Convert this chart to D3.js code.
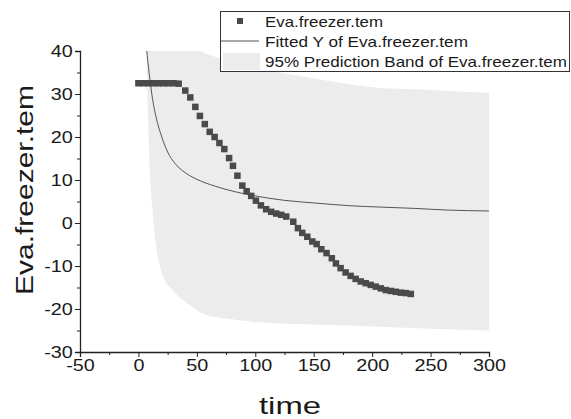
<!DOCTYPE html>
<html>
<head>
<meta charset="utf-8">
<script src="https://cdn.jsdelivr.net/npm/d3@7"></script>
<style>
  html, body { margin: 0; padding: 0; background: #fff; }
  text { font-family: "Liberation Sans", Arial, sans-serif; fill: #1a1a1a; }
</style>
</head>
<body>
<svg id="chart" width="571" height="419"></svg>
<script>
// ---- data ----
const timeValues = [0, 4.3, 8.6, 12.9, 17.2, 21.5, 25.8, 30.1, 34.4, 40.1, 44.4, 48.7, 52.6, 56.8, 61.0, 65.2, 69.3, 73.5, 77.6, 80.9, 84.7, 88.9, 92.6, 96.5, 100.5, 104.8, 109.3, 113.6, 117.9, 122.2, 126.5, 132.5, 136.5, 140.2, 144.5, 148.8, 152.5, 156.5, 161.0, 165.5, 169.0, 173.0, 177.3, 181.6, 185.9, 190.2, 194.5, 198.8, 203.1, 207.4, 211.7, 216.0, 220.2, 224.5, 228.8, 233.1];
const tempValues = [32.5, 32.5, 32.5, 32.5, 32.5, 32.5, 32.5, 32.5, 32.4, 30.8, 29.2, 27.0, 24.9, 23.0, 21.2, 20.0, 18.6, 17.2, 15.1, 13.3, 11.0, 8.7, 7.4, 6.3, 5.2, 4.1, 3.2, 2.6, 2.2, 1.9, 1.5, 0.3, -1.2, -2.3, -3.2, -4.3, -4.9, -6.1, -7.0, -8.2, -9.4, -10.5, -11.5, -12.3, -13.0, -13.6, -14.0, -14.4, -14.8, -15.2, -15.6, -15.8, -16.0, -16.2, -16.3, -16.5];

const fitX = [6.5, 7.2, 8.5, 10, 12, 14, 17, 20, 25, 31.5, 38, 44, 53, 70, 96, 124, 153, 182, 207, 236, 265, 300];
const fitY = [43, 40, 36.5, 33, 29, 26, 22.6, 20.0, 16.5, 13.8, 12.1, 11.0, 9.8, 8.2, 6.5, 5.3, 4.6, 4.0, 3.7, 3.4, 3.0, 2.8];

const bandX     = [6.8, 8, 10, 12, 14.5, 20, 31.5, 46, 57, 80, 100, 150, 207, 236, 265, 300];
const bandUpper = [75, 70, 63, 58, 54, 49, 44.5, 41, 39.5, 37.7, 36.2, 33.6, 31.4, 31.1, 30.7, 30.3];
const bandLower = [42, 27, 11, 3, -4, -11.5, -16.3, -19.5, -21.3, -22.4, -23.0, -23.6, -24.1, -24.4, -24.7, -25.0];

const xTicks = [-50, 0, 50, 100, 150, 200, 250, 300];
const yTicks = [-30, -20, -10, 0, 10, 20, 30, 40];
const legendLabels = ["Eva.freezer.tem", "Fitted Y of Eva.freezer.tem", "95% Prediction Band of Eva.freezer.tem"];

// ---- drawing ----
const svg = d3.select("#chart");
const x = d3.scaleLinear().domain([-50, 300]).range([80, 489]);
const y = d3.scaleLinear().domain([-30, 40]).range([352, 51]);
const fmt = d => String(d); // plain hyphen-minus as in the reference

svg.append("defs").append("clipPath").attr("id", "plotclip")
  .append("rect").attr("x", 80).attr("y", 51).attr("width", 409).attr("height", 301);

const plot = svg.append("g").attr("clip-path", "url(#plotclip)");

const bandData = bandX.map((d, i) => ({x: d, hi: bandUpper[i], lo: bandLower[i]}));
plot.append("path")
  .datum(bandData)
  .attr("fill", "#ececec")
  .attr("d", d3.area().curve(d3.curveMonotoneX)
    .x(d => x(d.x)).y0(d => y(d.lo)).y1(d => y(d.hi)));

const fitData = fitX.map((d, i) => ({x: d, y: fitY[i]}));
plot.append("path")
  .datum(fitData)
  .attr("fill", "none")
  .attr("stroke", "#555")
  .attr("stroke-width", 1)
  .attr("d", d3.line().curve(d3.curveMonotoneX).x(d => x(d.x)).y(d => y(d.y)));

const pts = timeValues.map((d, i) => ({x: d, y: tempValues[i]}));
const sq = 6.5;
plot.selectAll("rect.pt").data(pts).enter().append("rect")
  .attr("class", "pt")
  .attr("x", d => x(d.x) - sq / 2)
  .attr("y", d => y(d.y) - sq / 2)
  .attr("width", sq).attr("height", sq)
  .attr("fill", "#4a4a4a");

// axes
const xAxis = svg.append("g").attr("transform", "translate(0,352)")
  .call(d3.axisBottom(x).tickValues(xTicks).tickSize(5).tickPadding(2).tickFormat(fmt));
const xMinor = svg.append("g").attr("transform", "translate(0,352)")
  .call(d3.axisBottom(x).tickValues(d3.range(-25, 300, 50)).tickSize(3).tickFormat(""));
const yAxis = svg.append("g").attr("transform", "translate(80,0)")
  .call(d3.axisLeft(y).tickValues(yTicks).tickSize(5).tickPadding(1).tickFormat(fmt));
const yMinor = svg.append("g").attr("transform", "translate(80,0)")
  .call(d3.axisLeft(y).tickValues(d3.range(-25, 40, 10)).tickSize(3).tickFormat(""));

[xAxis, xMinor, yAxis, yMinor].forEach(g => {
  g.selectAll("path.domain").attr("stroke", "#222").attr("stroke-width", 1.3);
  g.selectAll(".tick line").attr("stroke", "#222").attr("stroke-width", 1);
});
xMinor.select("path.domain").remove();
yMinor.select("path.domain").remove();
[xAxis, yAxis].forEach(g => {
  g.selectAll("text").attr("font-size", 16.5).attr("fill", "#1a1a1a")
    .attr("font-family", "Liberation Sans, Arial, sans-serif")
    .attr("transform", "scale(1.2,1)");
});

// axis titles
svg.append("text").attr("x", 290).attr("y", 414).attr("text-anchor", "middle")
  .attr("font-size", 24).attr("textLength", 62).attr("lengthAdjust", "spacingAndGlyphs")
  .text("time");
svg.append("text")
  .attr("transform", "translate(33,190) rotate(-90)")
  .attr("text-anchor", "middle").attr("font-size", 23)
  .attr("textLength", 210).attr("lengthAdjust", "spacingAndGlyphs")
  .text("Eva.freezer.tem");

// legend
const lg = svg.append("g");
lg.append("rect").attr("x", 220.5).attr("y", 11.5).attr("width", 349).attr("height", 60)
  .attr("fill", "#fff").attr("stroke", "#333").attr("stroke-width", 1);
const rowY = [21, 41, 61];
const legendLen = [118, 203, 302];
lg.append("rect").attr("x", 237).attr("y", rowY[0] - 3).attr("width", 6).attr("height", 6).attr("fill", "#4a4a4a");
lg.append("line").attr("x1", 221).attr("x2", 259).attr("y1", rowY[1]).attr("y2", rowY[1])
  .attr("stroke", "#555").attr("stroke-width", 1);
lg.append("rect").attr("x", 223).attr("y", 53).attr("width", 37).attr("height", 17).attr("fill", "#ececec");
lg.selectAll("text.lab").data(legendLabels).enter().append("text")
  .attr("class", "lab")
  .attr("x", 265).attr("y", (d, i) => rowY[i] + 5.5)
  .attr("font-size", 15)
  .attr("textLength", (d, i) => legendLen[i]).attr("lengthAdjust", "spacingAndGlyphs")
  .text(d => d);
</script>
</body>
</html>
